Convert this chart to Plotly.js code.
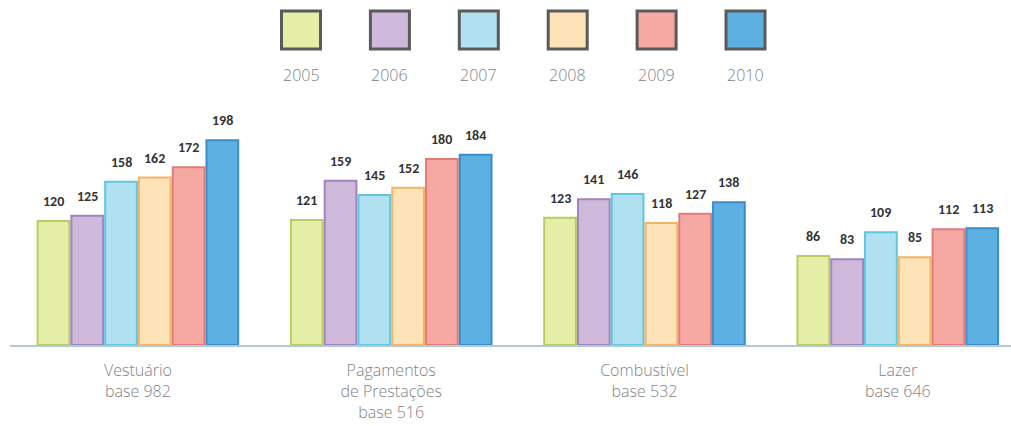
<!DOCTYPE html>
<html>
<head>
<meta charset="utf-8">
<script src="https://cdn.plot.ly/plotly-3.0.1.min.js"></script>
<style>html,body{margin:0;padding:0;background:#fff;}#chart{width:1011px;height:426px;}</style>
</head>
<body>
<div id="chart"></div>
<script>
const categories = ["Vestuário<br>base 982", "Pagamentos<br>de Prestações<br>base 516", "Combustível<br>base 532", "Lazer<br>base 646"];
const years = ["2005", "2006", "2007", "2008", "2009", "2010"];
const v2005 = [120, 121, 123, 86];
const v2006 = [125, 159, 141, 83];
const v2007 = [158, 145, 146, 109];
const v2008 = [162, 152, 118, 85];
const v2009 = [172, 180, 127, 112];
const v2010 = [198, 184, 138, 113];
const seriesValues = [v2005, v2006, v2007, v2008, v2009, v2010];

const fills = ["#e5eea6", "#cfb9da", "#b0e1f1", "#fee2b8", "#f6a8a3", "#5cb0e2"];
const edges = ["#b9cc62", "#a184bd", "#62c6e1", "#f3b465", "#e27c77", "#3b8ccb"];

const xpos = categories.map((c, i) => i);
const BARGAP = 0.2, GROUPGAP = 0.06;
const nSeries = seriesValues.length;
const slot = (1 - BARGAP) / nSeries;

const traces = seriesValues.map((vals, s) => ({
  type: "bar",
  name: years[s],
  x: xpos,
  y: vals,
  marker: {color: fills[s], line: {color: edges[s], width: 2}},
  hoverinfo: "skip"
}));

const L = 10, T = 100, B = 81, W = 1011, H = 426;
const plotW = W - L, plotH = H - T - B;
const legendX0 = 301, legendStep = 88.9, legendSqY = 30, legendTxtY = 75;
const labelFont = {family: "'Open Sans', Lato, sans-serif", size: 16, color: "#828282", weight: 300};

const shapes = [], annotations = [];
// value labels above bars
seriesValues.forEach((vals, s) => {
  vals.forEach((v, i) => {
    annotations.push({
      xref: "x", yref: "y",
      x: xpos[i] + (s - (nSeries - 1) / 2) * slot, y: v,
      xanchor: "center", yanchor: "bottom", yshift: 9, showarrow: false,
      text: "<b>" + v + "</b>",
      font: {family: "Carlito, 'Liberation Sans', Arial", size: 14, color: "#333333"}
    });
  });
});
// legend
years.forEach((yr, i) => {
  const cx = legendX0 + i * legendStep;
  const px = (cx - L) / plotW;
  shapes.push({
    type: "rect", xref: "paper", yref: "paper",
    xsizemode: "pixel", ysizemode: "pixel",
    xanchor: px, yanchor: (H - B - legendSqY) / plotH,
    x0: -19.5, x1: 19.5, y0: -19, y1: 19,
    fillcolor: fills[i], line: {color: "#5a5a5a", width: 3}
  });
  annotations.push({
    xref: "paper", yref: "paper", x: px, y: (H - B - legendTxtY) / plotH,
    xanchor: "center", yanchor: "middle", showarrow: false,
    text: yr, font: labelFont
  });
});

const layout = {
  width: W, height: H,
  margin: {l: L, r: 0, t: T, b: B, pad: 0},
  paper_bgcolor: "#ffffff", plot_bgcolor: "#ffffff",
  showlegend: false,
  barmode: "group", bargap: BARGAP, bargroupgap: GROUPGAP,
  xaxis: {
    type: "linear", range: [-0.505, 3.447],
    tickmode: "array", tickvals: xpos, ticktext: categories,
    showgrid: false, zeroline: false, showline: true,
    linecolor: "#b3c9d9", linewidth: 2, ticks: "",
    ticklabelstandoff: 10,
    tickfont: labelFont
  },
  yaxis: {range: [0, 237], visible: false, showgrid: false, zeroline: false},
  shapes: shapes, annotations: annotations
};

Plotly.newPlot("chart", traces, layout, {displayModeBar: false, staticPlot: true});
</script>
</body>
</html>
